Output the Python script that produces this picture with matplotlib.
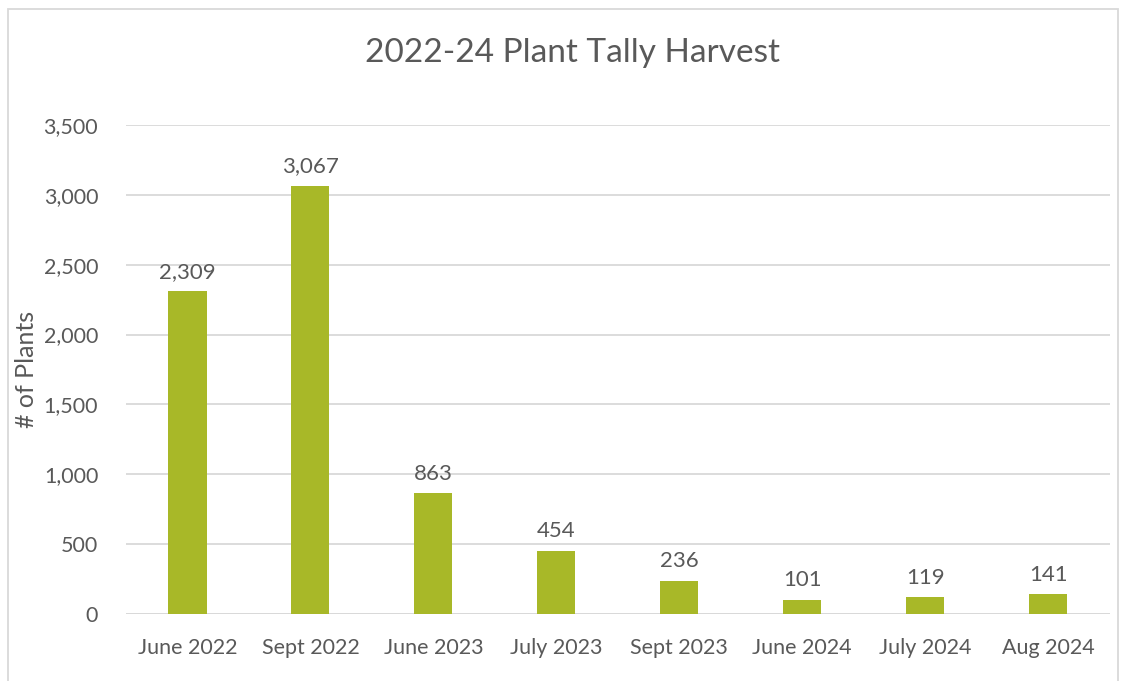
import matplotlib
matplotlib.use("Agg")
import matplotlib.pyplot as plt
from matplotlib.patches import Rectangle
import numpy as np

categories = ["June 2022", "Sept 2022", "June 2023", "July 2023",
              "Sept 2023", "June 2024", "July 2024", "Aug 2024"]
plants = [2309, 3067, 863, 454, 236, 101, 119, 141]
yticks = [0, 500, 1000, 1500, 2000, 2500, 3000, 3500]

TEXT = "#595959"
GRID = "#D9D9D9"
BAR = "#A8B828"

plt.rcParams["font.family"] = ["Lato", "DejaVu Sans"]

fig = plt.figure(figsize=(11.3, 6.81), dpi=100)
ax = fig.add_axes([0.1115, 0.0984, 0.8705, 0.718])

x = np.arange(len(categories))
bars = ax.bar(x, plants, width=0.31, color=BAR, zorder=3)
for b, v in zip(bars, plants):
    ax.annotate(f"{v:,}", (b.get_x() + b.get_width() / 2, v),
                xytext=(0, 7), textcoords="offset points",
                ha="center", va="bottom", fontsize=16, color=TEXT)

ax.set_xlim(-0.5, len(categories) - 0.5)
ax.set_ylim(0, 3500)
ax.set_yticks(yticks)
ax.set_yticklabels([f"{t:,}" for t in yticks])
ax.set_xticks(x)
ax.set_xticklabels(categories)
ax.tick_params(axis="both", length=0, labelsize=15.5, labelcolor=TEXT)
ax.tick_params(axis="y", pad=20)
ax.tick_params(axis="x", pad=17)
ax.grid(axis="y", color=GRID, linewidth=1.3, zorder=0)
for s in ax.spines.values():
    s.set_visible(False)
ax.axhline(0, color=GRID, linewidth=1.3, zorder=2)

ax.set_ylabel("# of Plants", fontsize=18, color=TEXT, labelpad=4)
fig.text(0.507, 0.922, "2022-24 Plant Tally Harvest", ha="center", va="center",
         fontsize=24, color=TEXT)

# outer chart border
fig.patches.append(Rectangle((8 / 1130, -0.01), 1110 / 1130, (681 - 9) / 681 + 0.01,
                             transform=fig.transFigure, fill=False,
                             edgecolor=GRID, linewidth=1.3))

fig.savefig("out.png", dpi=100)
